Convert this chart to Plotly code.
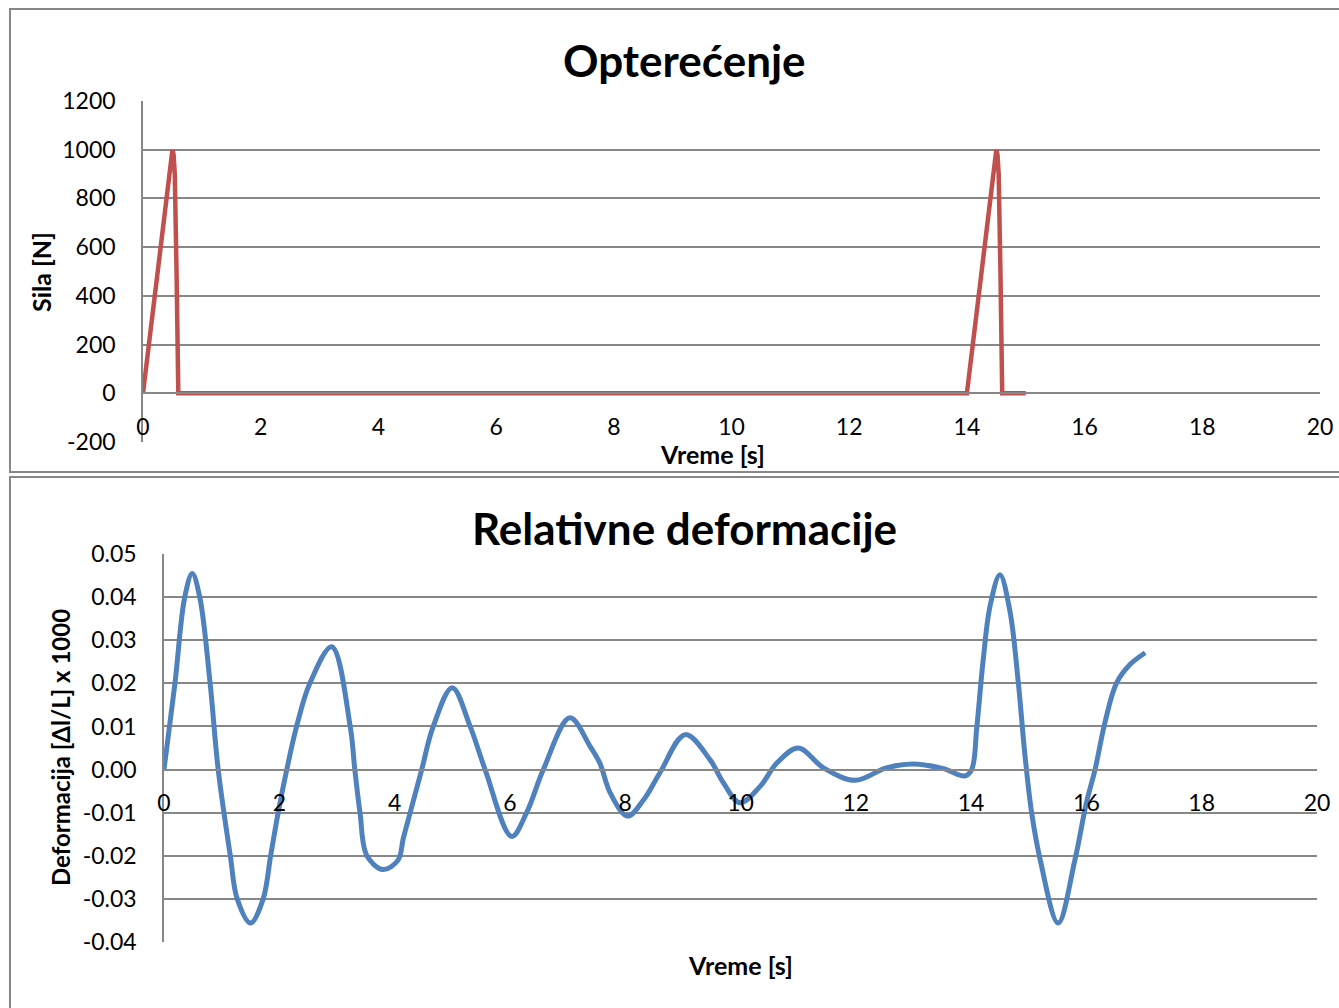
import plotly.graph_objects as go

# ---------------- data ----------------
force_t = [0.0, 0.1, 0.2, 0.3, 0.4, 0.45, 0.48, 0.5, 0.52, 0.54, 0.57, 0.6, 14.0, 14.1, 14.2, 14.3, 14.4, 14.45, 14.48, 14.5, 14.52, 14.54, 14.57, 14.6, 15.0]
force_v = [0, 200, 400, 600, 800, 910, 975, 1000, 980, 900, 500, 0, 0, 200, 400, 600, 800, 910, 975, 1000, 980, 900, 500, 0, 0]

def_t = [0.00, 0.19, 0.36, 0.49, 0.62, 0.80, 0.94, 1.15, 1.27, 1.50, 1.72, 1.85, 1.98, 2.13,
         2.30, 2.53, 2.91, 3.23, 3.31, 3.40, 3.52, 3.80, 4.06, 4.15, 4.27, 4.47, 4.67, 5.00,
         5.31, 5.57, 6.03, 6.29, 6.58, 7.04, 7.39, 7.56, 7.74, 8.04, 8.32, 8.60, 9.04, 9.47,
         9.70, 9.99, 10.34, 10.63, 11.00, 11.44, 11.99, 12.53, 13.00, 13.52, 13.89, 14.01,
         14.10, 14.21, 14.33, 14.50, 14.67, 14.82, 14.93, 15.05, 15.20, 15.51, 15.80, 16.00,
         16.15, 16.32, 16.52, 16.76, 17.02]
def_v = [0.000, 0.020, 0.040, 0.0455, 0.040, 0.020, 0.000, -0.020, -0.030, -0.0356, -0.030,
         -0.020, -0.010, 0.000, 0.010, 0.020, 0.0285, 0.010, 0.000, -0.010, -0.020, -0.0232,
         -0.021, -0.016, -0.010, 0.000, 0.010, 0.019, 0.010, 0.000, -0.0155, -0.010, 0.000,
         0.012, 0.0054, 0.0015, -0.0054, -0.0108, -0.007, -0.0008, 0.0081, 0.0023, -0.003,
         -0.0077, -0.0039, 0.0015, 0.005, 0.0004, -0.0025, 0.0004, 0.0013, 0.0002, -0.0015,
         0.000, 0.010, 0.0255, 0.038, 0.0452, 0.037, 0.020, 0.0039, -0.010, -0.021, -0.0356,
         -0.021, -0.0077, 0.000, 0.0108, 0.020, 0.0244, 0.0271]

x_ticks = [0, 2, 4, 6, 8, 10, 12, 14, 16, 18, 20]
force_ticks = [-200, 0, 200, 400, 600, 800, 1000, 1200]
force_tick_text = ["-200", "0", "200", "400", "600", "800", "1000", "1200"]
def_ticks = [-0.04, -0.03, -0.02, -0.01, 0.0, 0.01, 0.02, 0.03, 0.04, 0.05]
def_tick_text = ["-0.04", "-0.03", "-0.02", "-0.01", "0.00", "0.01", "0.02", "0.03", "0.04", "0.05"]

title_top = "Opterećenje"
title_bottom = "Relativne deformacije"
x_title = "Vreme [s]"
y_title_top = "Sila [N]"
y_title_bottom = "Deformacija [Δl/L] x 1000"

# ---------------- layout helpers ----------------
W, H = 1339, 1008
FONT = "Lato"
GRID = "#878787"

def px(x):
    return x / W

def py(y):
    return 1 - y / H

top_dom_x = [px(143), px(1320)]
top_dom_y = [py(442), py(101)]
bot_dom_x = [px(164), px(1317)]
bot_dom_y = [py(942), py(554)]
top_range = [-200, 1200]
bot_range = [-0.04, 0.05]

def zero_pos(dom, rng):
    return dom[0] + (0 - rng[0]) / (rng[1] - rng[0]) * (dom[1] - dom[0])

fig = go.Figure()
fig.add_trace(go.Scatter(x=force_t, y=force_v, mode="lines",
                         line=dict(color="#C0504D", width=4.5, shape="linear"),
                         xaxis="x", yaxis="y", showlegend=False))
fig.add_trace(go.Scatter(x=def_t, y=def_v, mode="lines",
                         line=dict(color="#4F81BD", width=5, shape="spline", smoothing=1.0),
                         xaxis="x2", yaxis="y2", showlegend=False))

tickfont = dict(family=FONT, size=23, color="black")

def xaxis(dom, pos):
    return dict(domain=dom, range=[0, 20], anchor="free", position=pos,
                tickvals=x_ticks, ticktext=[str(v) for v in x_ticks],
                showgrid=False, zeroline=False, showline=True, linecolor=GRID, linewidth=2,
                ticks="", tickfont=tickfont, ticklabelstandoff=13, fixedrange=True,
                automargin=False)

def yaxis(dom, rng, vals, text, anchor):
    return dict(domain=dom, range=rng, anchor=anchor, tickvals=vals, ticktext=text,
                showgrid=True, gridcolor=GRID, gridwidth=2, zeroline=False,
                showline=True, linecolor=GRID, linewidth=1.5, ticks="",
                tickfont=tickfont, ticklabelstandoff=21, fixedrange=True,
                automargin=False)

fig.update_layout(
    width=W, height=H, margin=dict(l=0, r=0, t=0, b=0, pad=0, autoexpand=False),
    paper_bgcolor="white", plot_bgcolor="white",
    xaxis=xaxis(top_dom_x, zero_pos(top_dom_y, top_range)),
    yaxis=yaxis(top_dom_y, top_range, force_ticks, force_tick_text, "x"),
    xaxis2=xaxis(bot_dom_x, zero_pos(bot_dom_y, bot_range)),
    yaxis2=yaxis(bot_dom_y, bot_range, def_ticks, def_tick_text, "x2"),
)

# chart frames
fig.add_shape(type="rect", xref="paper", yref="paper", x0=px(10), x1=px(1345), y0=py(472), y1=py(9),
              line=dict(color=GRID, width=2), layer="below")
fig.add_shape(type="rect", xref="paper", yref="paper", x0=px(10), x1=px(1345), y0=py(1015), y1=py(477),
              line=dict(color=GRID, width=2), layer="below")

def note(text, x, y, size, angle=0):
    return dict(text="<b>%s</b>" % text, x=px(x), y=py(y), xref="paper", yref="paper",
                xanchor="center", yanchor="middle", showarrow=False, textangle=angle,
                font=dict(family=FONT, size=size, color="black"))

ann = [
    note(title_top, 684, 60, 44),
    note(title_bottom, 684, 528, 44),
    note(x_title, 712, 454, 25),
    note(x_title, 740, 965, 25),
    note(y_title_top, 41, 272, 25, -90),
    note(y_title_bottom, 60, 748, 24, -90),
]
fig.update_layout(annotations=ann)

fig.write_html("out.html", config={"displayModeBar": False},
               post_script="document.body.style.margin='0';document.body.style.overflow='hidden';")
